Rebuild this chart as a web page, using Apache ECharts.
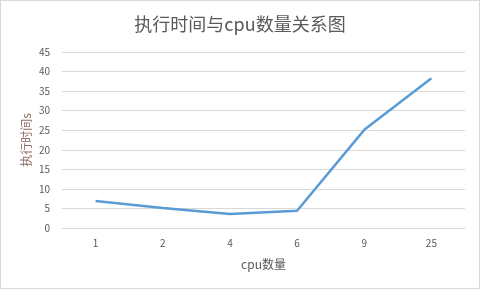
<!DOCTYPE html>
<html><head><meta charset="utf-8">
<script src="https://cdn.jsdelivr.net/npm/echarts@6/dist/echarts.min.js"></script>
<style>html,body{margin:0;padding:0;background:#fff}#c{width:478px;height:287px;border:1px solid #d9d9d9}</style>
</head><body><div id="c"></div>
<script>
const categories = ['1','2','4','6','9','25'];
const times = [6.9, 5.1, 3.6, 4.4, 25.1, 38.3];
const chart = echarts.init(document.getElementById('c'));
const font = '"Microsoft YaHei","Noto Sans CJK SC","Noto Sans",sans-serif';
chart.setOption({
  animation:false,
  title:{text:'执行时间与cpu数量关系图',left:'center',top:9,textStyle:{fontSize:18,fontWeight:'normal',color:'#595959',fontFamily:font}},
  grid:{left:61,right:14,top:51,bottom:60},
  xAxis:{type:'category',data:categories,boundaryGap:true,name:'cpu数量',nameLocation:'middle',nameGap:30,
    nameTextStyle:{color:'#595959',fontSize:12,fontFamily:font},
    axisLine:{show:true,lineStyle:{color:'#d9d9d9'}},axisTick:{show:false},
    axisLabel:{color:'#595959',fontSize:10,margin:10,fontFamily:font}},
  yAxis:{type:'value',min:0,max:45,interval:5,name:'执行时间s',nameLocation:'middle',nameGap:30,nameRotate:90,nameMoveOverlap:false,
    nameTextStyle:{color:'#8c6e63',fontSize:12,fontFamily:font},
    axisLine:{show:false},axisTick:{show:false},
    axisLabel:{color:'#595959',fontSize:10,margin:12,fontFamily:font},
    splitLine:{lineStyle:{color:'#d9d9d9'}}},
  series:[{type:'line',data:times,symbol:'none',lineStyle:{color:'#5b9bd5',width:2.5}}]
});
</script></body></html>
